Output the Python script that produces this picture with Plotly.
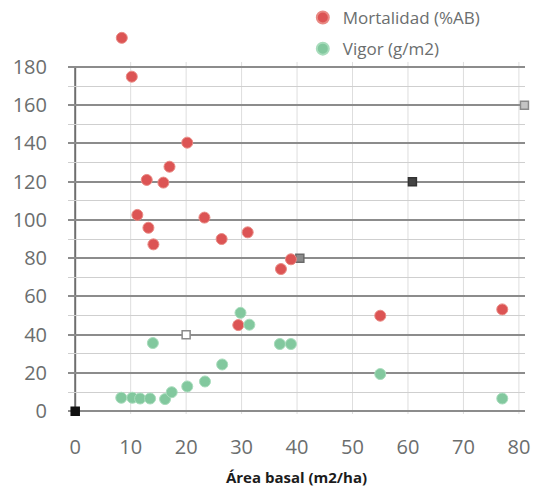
import plotly.graph_objects as go

# Área basal (m2/ha) vs mortalidad and vigor
mort_x = [8.4, 10.2, 11.2, 12.9, 13.2, 14.1, 15.9, 17.0, 20.2, 23.3, 26.4, 29.4, 31.1, 37.1, 38.9, 55.0, 77.0]
mort_y = [195.2, 174.9, 102.6, 120.9, 95.9, 87.2, 119.5, 127.8, 140.4, 101.2, 90.0, 45.0, 93.5, 74.3, 79.4, 49.9, 53.2]

vigor_x = [8.3, 10.3, 11.7, 13.5, 14.0, 16.2, 17.4, 20.2, 23.4, 26.5, 29.8, 31.4, 36.9, 38.9, 55.0, 77.0]
vigor_y = [7.0, 7.0, 6.6, 6.6, 35.6, 6.3, 9.9, 12.9, 15.5, 24.4, 51.4, 45.2, 35.1, 35.1, 19.4, 6.6]

# reference squares along the diagonal
ref_x = [0, 20, 40.5, 60.8, 81]
ref_y = [0, 40, 80, 120, 160]
ref_fill = ["#111111", "#ffffff", "#8a8a8a", "#444444", "#c4c4c4"]
ref_line = ["#111111", "#8a8a8a", "#6a6a6a", "#333333", "#8a8a8a"]

x_ticks = [0, 10, 20, 30, 40, 50, 60, 70, 80]
y_ticks = [0, 20, 40, 60, 80, 100, 120, 140, 160, 180]
y_minor = [10, 30, 50, 70, 90, 110, 130, 150, 170]

X_RANGE = [-1.3, 81.1]
Y_RANGE = [-1.5, 199.3]
GRID_TOP = 182.6  # vertical grid stops just above the last tick

RED = "#dc5454"
GREEN = "#82c89e"
TICK_GRAY = "#6b6e6e"
FONT = "Open Sans"

fig = go.Figure()

# vertical grid, ending a little above the top tick
for xv in x_ticks[1:]:
    fig.add_shape(type="line", xref="x", yref="y", layer="below",
                  x0=xv, x1=xv, y0=Y_RANGE[0], y1=GRID_TOP,
                  line=dict(color="#dedede", width=1))

fig.add_trace(go.Scatter(
    x=ref_x, y=ref_y, mode="markers", showlegend=False, cliponaxis=False,
    marker=dict(symbol="square", size=8, color=ref_fill,
                line=dict(color=ref_line, width=1.5)),
    hoverinfo="skip",
))

fig.add_trace(go.Scatter(
    x=mort_x, y=mort_y, mode="markers", name="Mortalidad (%AB)",
    legendgroup="m", cliponaxis=False,
    marker=dict(size=11, color=RED, line=dict(color="#e98a84", width=1)),
))

fig.add_trace(go.Scatter(
    x=vigor_x, y=vigor_y, mode="markers", name="Vigor (g/m2)",
    legendgroup="v", cliponaxis=False,
    marker=dict(size=11, color=GREEN, line=dict(color="#a8dcbc", width=1)),
))

# y axis line, drawn from the first to the last tick
fig.add_shape(type="line", xref="x", yref="y",
              x0=x_ticks[0], x1=x_ticks[0], y0=y_ticks[0], y1=y_ticks[-1],
              line=dict(color="#6e6e6e", width=2), layer="below")

fig.update_layout(
    width=535, height=487,
    margin=dict(l=68, r=10, t=30, b=73, autoexpand=False),
    paper_bgcolor="white", plot_bgcolor="white",
    font=dict(family=FONT, color=TICK_GRAY),
    legend=dict(
        xref="container", yref="container",
        x=0.566, y=1.0, xanchor="left", yanchor="top",
        font=dict(size=17, color="#6b6e6e", family=FONT),
        traceorder="grouped", tracegroupgap=6,
        bgcolor="rgba(0,0,0,0)", itemsizing="constant",
    ),
    xaxis=dict(
        range=X_RANGE, tickvals=x_ticks, showgrid=False,
        zeroline=False, showline=False,
        ticks="", tickfont=dict(size=20, color=TICK_GRAY, family=FONT),
        ticklabelstandoff=19,
        title=dict(text="Área basal (m2/ha)", standoff=15,
                   font=dict(size=15, color="#1c1c1c", family=FONT, weight="bold")),
    ),
    yaxis=dict(
        range=Y_RANGE, tickvals=y_ticks, showgrid=True,
        gridcolor="#8c8c8c", gridwidth=1.6, zeroline=False, showline=False,
        ticks="", tickfont=dict(size=20, color=TICK_GRAY, family=FONT),
        ticklabelstandoff=20,
        minor=dict(tickvals=y_minor, showgrid=True, gridcolor="#cfcfcf", gridwidth=1.4),
    ),
)

fig.write_html("out.html")
